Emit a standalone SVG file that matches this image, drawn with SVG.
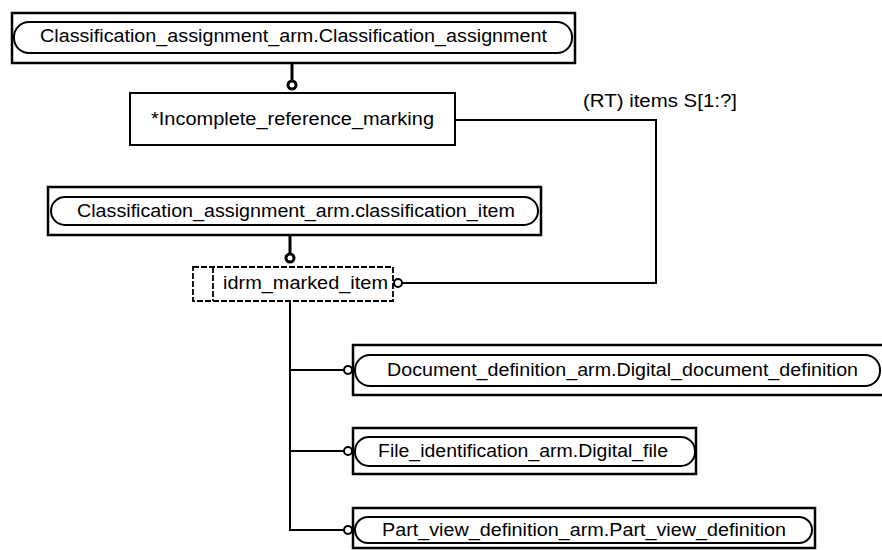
<svg xmlns="http://www.w3.org/2000/svg" width="882" height="550" viewBox="0 0 882 550">
<style>
  .outer { fill: #fff; stroke: #000; stroke-width: 2.5; }
  .inner { fill: #fff; stroke: #000; stroke-width: 2; }
  .box { fill: #fff; stroke: #000; stroke-width: 2; }
  .dash { fill: #fff; stroke: #000; stroke-width: 1.8; stroke-dasharray: 6 2; }
  .lbl { font-family: "Liberation Sans", Arial, sans-serif; font-size: 17.5px; fill: #000; }
  .conn { fill: none; stroke: #000; stroke-width: 2; }
  .thick { fill: none; stroke: #000; stroke-width: 3; }
  .oc { fill: #fff; stroke: #000; stroke-width: 2; }
  .oct { fill: #fff; stroke: #000; stroke-width: 3; }
</style>
<rect width="882" height="550" fill="#fff"/>

<g id="connectors">
  <line class="thick" x1="292" y1="63" x2="292" y2="81"/>
  <circle class="oct" cx="292" cy="85" r="4"/>
  <line class="thick" x1="290" y1="235" x2="290" y2="254"/>
  <circle class="oct" cx="290" cy="258" r="4"/>
  <polyline class="conn" points="455,120 656,120 656,283 403,283"/>
  <circle class="oc" cx="398" cy="283" r="4"/>
  <text class="lbl" x="583" y="107" textLength="154" lengthAdjust="spacingAndGlyphs">(RT) items S[1:?]</text>
  <polyline class="conn" points="290,301 290,530 344,530"/>
  <line class="conn" x1="290" y1="370" x2="344" y2="370"/>
  <line class="conn" x1="290" y1="451" x2="344" y2="451"/>
  <circle class="oc" cx="348" cy="370" r="4"/>
  <circle class="oc" cx="348" cy="451" r="4"/>
  <circle class="oc" cx="348" cy="530" r="4"/>
</g>

<g id="node-classification-assignment">
  <rect class="outer" x="12" y="13" width="563" height="50"/>
  <rect class="inner" x="14" y="22" width="558" height="31" rx="15" ry="15"/>
  <text class="lbl" x="40" y="42" textLength="507" lengthAdjust="spacingAndGlyphs">Classification_assignment_arm.Classification_assignment</text>
</g>

<g id="node-incomplete-reference-marking">
  <rect class="box" x="130" y="93" width="325" height="52"/>
  <text class="lbl" x="151" y="125" textLength="283" lengthAdjust="spacingAndGlyphs">*Incomplete_reference_marking</text>
</g>

<g id="node-classification-item">
  <rect class="outer" x="48" y="187" width="493" height="48"/>
  <rect class="inner" x="51" y="197" width="487" height="28" rx="14" ry="14"/>
  <text class="lbl" x="77" y="217" textLength="438" lengthAdjust="spacingAndGlyphs">Classification_assignment_arm.classification_item</text>
</g>

<g id="node-idrm-marked-item">
  <rect class="dash" x="193" y="267" width="200" height="34"/>
  <line class="dash" x1="213" y1="267" x2="213" y2="301"/>
  <text class="lbl" x="223" y="289" textLength="165" lengthAdjust="spacingAndGlyphs">idrm_marked_item</text>
</g>

<g id="node-digital-document-definition">
  <rect class="outer" x="353" y="345" width="535" height="50"/>
  <rect class="inner" x="355" y="355" width="525" height="31" rx="15" ry="15"/>
  <text class="lbl" x="387" y="376" textLength="471" lengthAdjust="spacingAndGlyphs">Document_definition_arm.Digital_document_definition</text>
</g>

<g id="node-digital-file">
  <rect class="outer" x="353" y="428" width="343" height="46"/>
  <rect class="inner" x="355" y="437" width="340" height="29" rx="14" ry="14"/>
  <text class="lbl" x="378" y="457" textLength="290" lengthAdjust="spacingAndGlyphs">File_identification_arm.Digital_file</text>
</g>

<g id="node-part-view-definition">
  <rect class="outer" x="353" y="508" width="462" height="40"/>
  <rect class="inner" x="355" y="517" width="457" height="26" rx="13" ry="13"/>
  <text class="lbl" x="382" y="536" textLength="404" lengthAdjust="spacingAndGlyphs">Part_view_definition_arm.Part_view_definition</text>
</g>
</svg>
